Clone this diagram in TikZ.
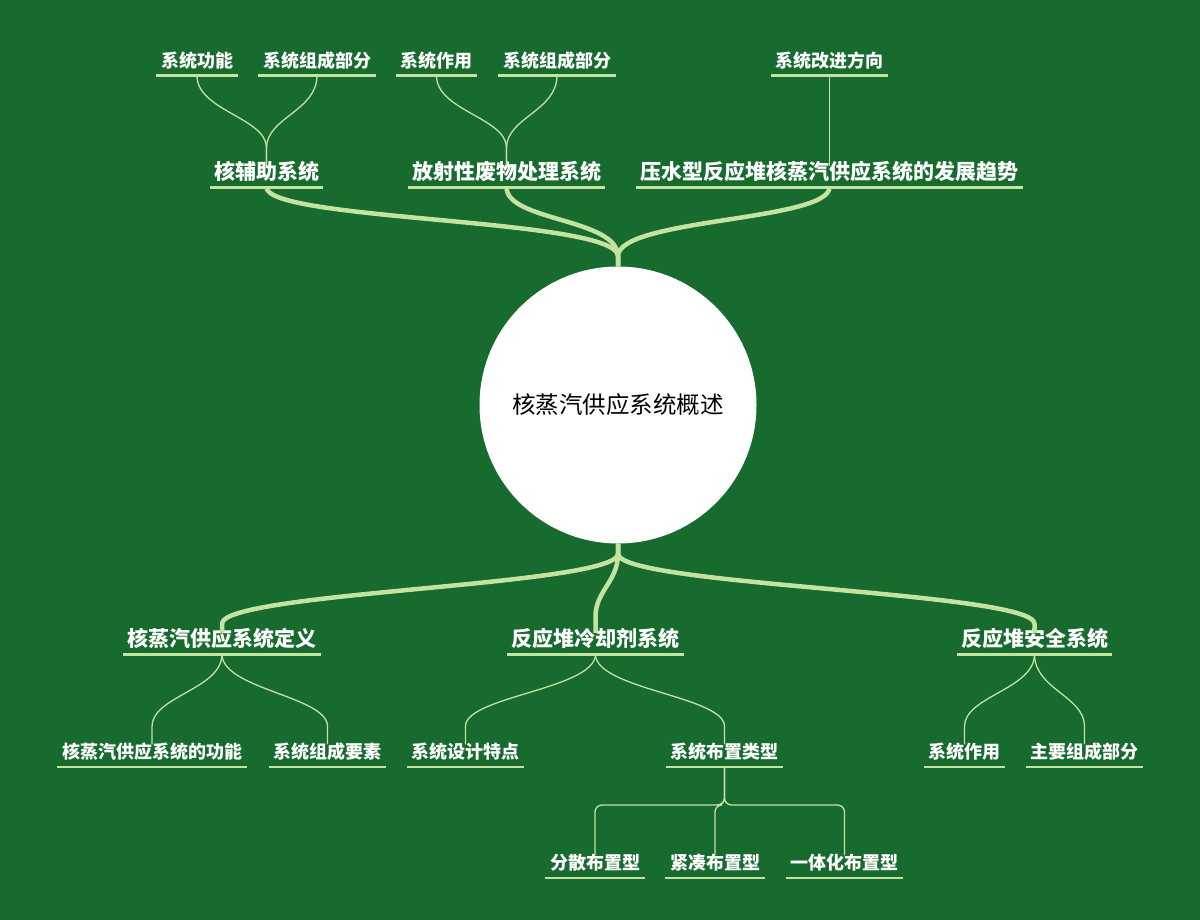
\documentclass[tikz,border=0pt]{standalone}
\usepackage{fontspec}
\setmainfont{Noto Sans CJK SC}
\usetikzlibrary{calc}
\definecolor{bg}{RGB}{23,107,46}
\definecolor{ln}{RGB}{196,226,160}
\begin{document}
\begin{tikzpicture}[x=1pt,y=-1pt,
  lone/.style={text=white, font=\bfseries\fontsize{21}{21}\selectfont, inner xsep=4pt, inner ysep=5.5pt, text height=0.8em, text depth=0.2em},
  ltwo/.style={text=white, font=\bfseries\fontsize{18}{18}\selectfont, inner xsep=4.5pt, inner ysep=6pt, text height=0.8em, text depth=0.2em},
  uone/.style={draw=ln, line width=3pt},
  utwo/.style={draw=ln, line width=2.4pt},
  bigline/.style={draw=ln, line width=4.5pt},
  twig/.style={draw=ln, line width=1.3pt},
]
\fill[bg] (0,0) rectangle (1200,920);
\useasboundingbox (0,0) rectangle (1200,920);

% root
\node[circle, fill=white, minimum size=277pt, inner sep=0pt, text=black,
      font=\fontsize{23.5}{23.5}\selectfont] (root) at (618,405) {核蒸汽供应系统概述};

% level 1 top
\node[lone] (a1) at (266.5,176.5) {核辅助系统};
\node[lone] (a2) at (506.5,176.5) {放射性废物处理系统};
\node[lone] (a3) at (829.5,176.5) {压水型反应堆核蒸汽供应系统的发展趋势};
% level 1 bottom
\node[lone] (b1) at (222,643.5) {核蒸汽供应系统定义};
\node[lone] (b2) at (595.5,643.5) {反应堆冷却剂系统};
\node[lone] (b3) at (1034.5,643.5) {反应堆安全系统};

% level 2 top
\node[ltwo] (c1) at (197,64.5) {系统功能};
\node[ltwo] (c2) at (317,64.5) {系统组成部分};
\node[ltwo] (c3) at (436.5,64.5) {系统作用};
\node[ltwo] (c4) at (557,64.5) {系统组成部分};
\node[ltwo] (c5) at (829.5,64.5) {系统改进方向};
% level 2 bottom
\node[ltwo] (d1) at (152,755.5) {核蒸汽供应系统的功能};
\node[ltwo] (d2) at (327.5,755.5) {系统组成要素};
\node[ltwo] (d3) at (465.5,755.5) {系统设计特点};
\node[ltwo] (d4) at (724.5,755.5) {系统布置类型};
\node[ltwo] (d5) at (964.5,755.5) {系统作用};
\node[ltwo] (d6) at (1084.5,755.5) {主要组成部分};
% level 3
\node[ltwo] (e1) at (595,866.5) {分散布置型};
\node[ltwo] (e2) at (715,866.5) {紧凑布置型};
\node[ltwo] (e3) at (844.5,866.5) {一体化布置型};

% underlines
\foreach \n in {a1,a2,a3,b1,b2,b3}
  \draw[uone] (\n.south west) -- (\n.south east);
\foreach \n in {c1,c2,c3,c4,c5,d1,d2,d3,d4,d5,d6,e1,e2,e3}
  \draw[utwo] (\n.south west) -- (\n.south east);

% thick connectors top
\coordinate (rt) at ([yshift=10pt]root.north);
\foreach \n in {a1,a2,a3}
  \draw[bigline] (\n.south) .. controls +(0,34) and +(0,-38) .. (rt) -- (root.north);

% thick connectors bottom
\coordinate (rb) at ([yshift=-10pt]root.south);
\draw[bigline] (root.south) -- (rb) .. controls +(0,32) and +(0,-32) .. ([yshift=9pt]b1.north) -- (b1.north);
\draw[bigline] (root.south) -- (rb) .. controls +(0,28) and +(0,-26) .. ([yshift=16pt]b2.north) -- (b2.north);
\draw[bigline] (root.south) -- (rb) .. controls +(0,32) and +(0,-32) .. ([yshift=9pt]b3.north) -- (b3.north);

% thin connectors top
\foreach \c/\p in {c1/a1,c2/a1,c3/a2,c4/a2}
  \draw[twig] (\c.south) .. controls +(0,35) and +(0,-30) .. ([yshift=18pt]\p.north) -- (\p.north);
\draw[twig] (c5.south) -- (a3.north);

% thin connectors bottom
\foreach \p/\c in {b1/d1,b1/d2,b2/d3,b2/d4,b3/d5,b3/d6}
  \draw[twig] (\p.south) .. controls +(0,35) and +(0,-30) .. ([yshift=18pt]\c.north) -- (\c.north);

% elbow connectors
\coordinate (bar) at (724.5,805);
\foreach \n in {e1,e2,e3}
  \draw[twig, rounded corners=7pt] (d4.south) -- (bar) -| (\n.north);
\end{tikzpicture}
\end{document}
